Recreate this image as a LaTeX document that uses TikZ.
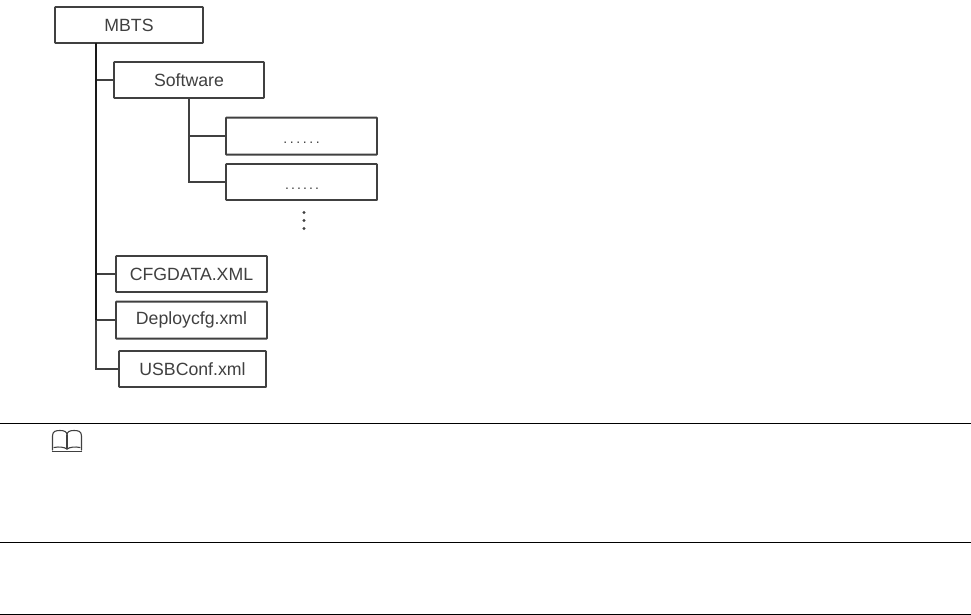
\documentclass[tikz,border=0pt]{standalone}
\usepackage{fontspec}
\setmainfont{Liberation Sans}
\definecolor{ink}{HTML}{404040}
\newcommand{\sixdots}[1]{.\kern#1.\kern#1.\kern#1.\kern#1.\kern#1.}
\tikzset{
  x=1pt,y=-1pt,
  filebox/.style={draw=ink,line width=1.9pt,fill=white,inner sep=0pt,rounded corners=0.6pt,text=ink,font=\fontsize{17.7}{20}\selectfont},
  link/.style={draw=ink,line width=1.9pt,line join=miter},
  trunk/.style={draw=black!90,line width=2.2pt},
  rulebar/.style={draw=black,line width=1pt},
  vdot/.style={circle,fill=ink,inner sep=0pt,minimum size=3.4pt},
  bookline/.style={draw=ink,line width=1.1pt,line join=round,line cap=round}
}
\begin{document}
\begin{tikzpicture}
\useasboundingbox (0,0) rectangle (971,615);
\node[filebox,minimum width=148pt,minimum height=36pt] (mbts) at (129,25) {MBTS};
\node[filebox,minimum width=150pt,minimum height=36pt] (soft) at (189,80) {Software};
\node[filebox,minimum width=151pt,minimum height=37pt] (d1) at (301.5,136.1) {};
\node[filebox,minimum width=151pt,minimum height=36pt] (d2) at (301.5,182) {};
\node[filebox,minimum width=151pt,minimum height=36pt] (cfg) at (191.5,274) {CFGDATA.XML};
\node[filebox,minimum width=151pt,minimum height=37pt] (dep) at (191.5,320.1) {Deploycfg.xml};
\node[filebox,minimum width=147pt,minimum height=36pt] (usb) at (192.5,369) {USBConf.xml};
\node[text=ink,inner sep=0pt,font=\fontsize{14}{15}\selectfont,anchor=base] (t1) at (301.5,143) {\sixdots{2.6pt}};
\node[text=ink,inner sep=0pt,font=\fontsize{14}{15}\selectfont,anchor=base] (t2) at (302,189) {\sixdots{2.1pt}};
\node[vdot] (v1) at (304,212.5) {};
\node[vdot] (v2) at (304,220.5) {};
\node[vdot] (v3) at (304,228.5) {};
\coordinate (tstart) at (96,43);
\coordinate (tmid) at (96,320);
\coordinate (tbend) at (96,369);
\coordinate (sstart) at (189,98);
\coordinate (sbend) at (189,182);
\draw[link] (tstart |- soft.west) -- (soft.west);
\draw[link] (tstart |- cfg.west) -- (cfg.west);
\draw[link] (tstart |- dep.west) -- (dep.west);
\draw[trunk] (tstart) -- (tmid);
\draw[link] (tmid) -- (tbend) -- (usb.west);
\draw[link] (sstart) -- (sbend) -- (d2.west);
\draw[link] (sstart |- d1.west) -- (d1.west);
\draw[rulebar] (0,423) -- (971,423);
\draw[rulebar] (0,542) -- (971,542);
\draw[rulebar] (0,614.5) -- (971,614.5);
% book icon
\draw[bookline] (52.5,450) -- (52.5,436) .. controls (52.5,431) and (56,430.5) .. (60,430.5) .. controls (64,430.5) and (67,431.5) .. (67,435) .. controls (67,431.5) and (70,430.5) .. (74,430.5) .. controls (78,430.5) and (81.5,431) .. (81.5,436) -- (81.5,450);
\draw[bookline] (67,435) -- (67,449);
\draw[bookline] (54,447.5) .. controls (59,446.5) and (64,447) .. (67,449) .. controls (70,447) and (75,446.5) .. (80,447.5);
\draw[bookline] (52.5,451.5) -- (81.5,451.5);
\end{tikzpicture}
\end{document}
